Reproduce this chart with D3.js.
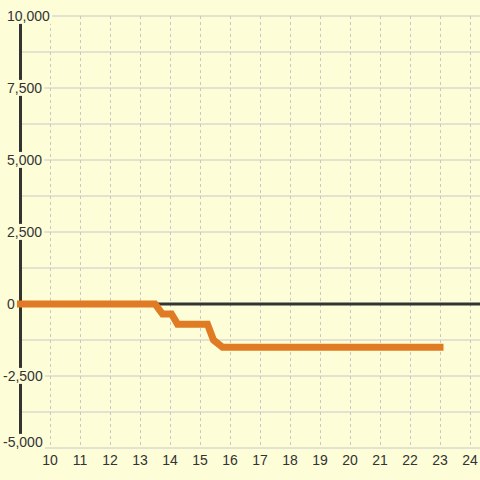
<!DOCTYPE html>
<html>
<head>
<meta charset="utf-8">
<script src="https://cdn.jsdelivr.net/npm/d3@7"></script>
<style>
  html, body { margin: 0; padding: 0; background: #fdfdd8; }
  svg { display: block; font-family: "Liberation Sans", Arial, sans-serif; }
</style>
</head>
<body>
<script>
/* DATA */
const hours = [9, 13.5, 13.75, 14.05, 14.25, 15.25, 15.45, 15.75, 23];
const values = [0, 0, -350, -350, -700, -700, -1250, -1500, -1500];
const xTicks = [10, 11, 12, 13, 14, 15, 16, 17, 18, 19, 20, 21, 22, 23, 24];
const yTicks = [-5000, -2500, 0, 2500, 5000, 7500, 10000];
const yGrid = d3.range(-5000, 10001, 1250);

const data = hours.map((h, i) => ({ x: h, y: values[i] }));

const width = 480;
const height = 480;
const bg = '#fdfdd8';

const svg = d3
  .select('body')
  .append('svg')
  .attr('width', width)
  .attr('height', height);

svg.append('rect')
  .attr('width', width)
  .attr('height', height)
  .attr('fill', bg);

const xScale = d3.scaleLinear().domain([9, 24 + 1 / 3]).range([20, 480]);
const yScale = d3.scaleLinear().domain([-5000, 10000]).range([448, 16]);

// horizontal grid
svg.append('g')
  .selectAll('line')
  .data(yGrid)
  .join('line')
  .attr('x1', 20)
  .attr('x2', width)
  .attr('y1', d => yScale(d))
  .attr('y2', d => yScale(d))
  .attr('stroke', '#c8c8c8')
  .attr('stroke-width', 1);

// vertical dashed grid
svg.append('g')
  .selectAll('line')
  .data(xTicks)
  .join('line')
  .attr('x1', d => xScale(d) + 0.5)
  .attr('x2', d => xScale(d) + 0.5)
  .attr('y1', yScale(10000))
  .attr('y2', yScale(-5000))
  .attr('stroke', '#c8c8c8')
  .attr('stroke-width', 1)
  .attr('stroke-dasharray', '3,3');

// y axis line
svg.append('line')
  .attr('x1', 20.5)
  .attr('x2', 20.5)
  .attr('y1', yScale(10000))
  .attr('y2', yScale(-5000))
  .attr('stroke', '#333')
  .attr('stroke-width', 3);

// zero line
svg.append('line')
  .attr('x1', 20)
  .attr('x2', width)
  .attr('y1', yScale(0))
  .attr('y2', yScale(0))
  .attr('stroke', '#333')
  .attr('stroke-width', 3);

// series
const lineGenerator = d3
  .line()
  .x(d => xScale(d.x))
  .y(d => yScale(d.y));

svg.append('path')
  .attr('d', lineGenerator(data))
  .attr('fill', 'none')
  .attr('stroke', '#e07b24')
  .attr('stroke-width', 7)
  .attr('stroke-linecap', 'square')
  .attr('stroke-linejoin', 'miter');

// y labels with background boxes
const yLabels = svg.append('g')
  .selectAll('g')
  .data(yTicks)
  .join('g')
  .attr('transform', d => `translate(${d < 0 ? 3 : 7} ${d === -5000 ? yScale(d) - 6 : yScale(d)})`);

yLabels.append('text')
  .attr('dy', '0.35em')
  .attr('font-size', 14)
  .attr('fill', '#333')
  .text(d => d3.format(',')(d).replace('−', '-'));

yLabels.each(function () {
  const g = d3.select(this);
  const b = g.select('text').node().getBBox();
  g.insert('rect', 'text')
    .attr('x', b.x - 2)
    .attr('y', b.y)
    .attr('width', b.width + 4)
    .attr('height', b.height)
    .attr('fill', bg);
});

// x labels
svg.append('g')
  .selectAll('text')
  .data(xTicks)
  .join('text')
  .attr('x', d => xScale(d))
  .attr('y', 465)
  .attr('text-anchor', 'middle')
  .attr('font-size', 14)
  .attr('fill', '#333')
  .text(d => d);
</script>
</body>
</html>
